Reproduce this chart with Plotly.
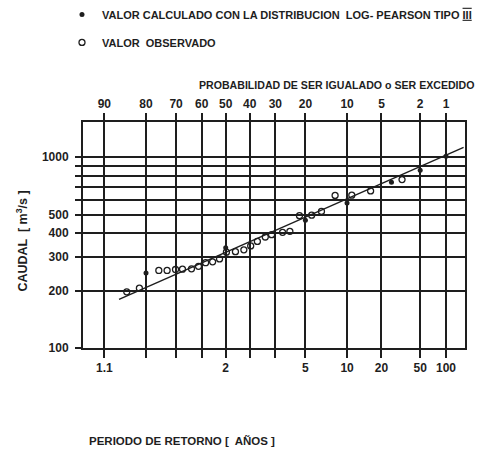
from statistics import NormalDist
import plotly.graph_objects as go

# ---------------- data ----------------
# exceedance probability (%) and discharge (m3/s) of observed values
obs_prob = [85.2, 81.9, 76.0, 73.2, 70.2, 67.6, 64.1, 61.3, 58.4, 55.5, 52.6,
            49.7, 45.9, 42.4, 39.6, 36.9, 33.8, 31.4, 27.4, 24.9, 21.8, 18.2,
            15.6, 12.4, 9.15, 6.3, 3.13]
obs_q = [197, 206, 255, 255, 258, 259, 260, 268, 280, 283, 293,
         318, 320, 327, 343, 362, 382, 393, 404, 409, 494, 497,
         520, 631, 633, 666, 764]

# values calculated with the Log-Pearson type III distribution
calc_prob = [80, 50, 20, 10, 4, 2, 1]
calc_q = [247, 335, 468, 576, 740, 854, 1012]

# fitted Log-Pearson III line (end points)
line_prob = [87, 0.6]
line_q = [180, 1128]

# axis ticks
prob_ticks = [90, 80, 70, 60, 50, 40, 30, 20, 10, 5, 2, 1]
prob_labels = ["90", "80", "70", "60", "50", "40", "30", "20", "10", "5", "2", "1"]
period_labels = ["1.1", "", "", "", "2", "", "", "5", "10", "20", "50", "100"]
q_ticks = [100, 200, 300, 400, 500, 600, 700, 800, 900, 1000]
q_labels = ["100", "200", "300", "400", "500", "", "", "", "", "1000"]

# ---------------- normal probability scale ----------------
nd = NormalDist()


def z(p):
    return nd.inv_cdf(1 - p / 100.0)


INK = "#1e1e1e"
FONT = "Liberation Sans"

fig = go.Figure()

# fitted line drawn on the top (probability) axis, which shares the range
fig.add_trace(go.Scatter(
    x=[z(p) for p in line_prob], y=line_q, mode="lines", xaxis="x2",
    line=dict(color=INK, width=1.4), showlegend=False, hoverinfo="skip"))

fig.add_trace(go.Scatter(
    x=[z(p) for p in obs_prob], y=obs_q, mode="markers",
    name="VALOR  OBSERVADO", legendgroup="b", legendrank=2,
    marker=dict(symbol="circle-open", size=6, color=INK, line=dict(width=1.3))))

fig.add_trace(go.Scatter(
    x=[z(p) for p in calc_prob], y=calc_q, mode="markers",
    name="VALOR CALCULADO CON LA DISTRIBUCION  LOG- PEARSON TIPO "
         "<span style=\"text-decoration:underline overline\">III</span>",
    legendgroup="a", legendrank=1,
    marker=dict(symbol="circle", size=5, color=INK)))

xr = [-1.507, 2.527]
fig.update_layout(
    width=477, height=451,
    margin=dict(l=83, r=12, t=122, b=103, autoexpand=False),
    paper_bgcolor="white", plot_bgcolor="white",
    font=dict(family=FONT, size=12, color=INK),
    xaxis=dict(
        range=xr, tickvals=[z(p) for p in prob_ticks], ticktext=period_labels,
        showgrid=True, gridcolor=INK, gridwidth=1.6,
        ticks="outside", ticklen=8, tickwidth=1.6, tickcolor=INK,
        showline=True, linecolor=INK, linewidth=2, mirror=True,
        zeroline=False,
        tickfont=dict(size=12, family=FONT, weight="bold")),
    xaxis2=dict(
        range=xr, overlaying="x", side="top", anchor="y",
        tickvals=[z(p) for p in prob_ticks], ticktext=prob_labels,
        showgrid=False, zeroline=False, showline=False,
        ticks="outside", ticklen=8, tickwidth=1.6, tickcolor=INK,
        tickfont=dict(size=12, family=FONT, weight="bold")),
    yaxis=dict(
        type="log", range=[2, 3.185], tickvals=q_ticks, ticktext=q_labels,
        showgrid=True, gridcolor=INK, gridwidth=1.6,
        ticks="outside", ticklen=6, tickwidth=1.6, tickcolor=INK,
        showline=True, linecolor=INK, linewidth=2, mirror=True,
        zeroline=False, ticklabelstandoff=4,
        tickfont=dict(size=12, family=FONT, weight="bold")),
    legend=dict(
        x=-0.055, y=1.54, xanchor="left", yanchor="top",
        traceorder="grouped", tracegroupgap=9, bgcolor="rgba(0,0,0,0)",
        font=dict(size=11, family=FONT, weight="bold"),
        itemclick=False),
    annotations=[
        dict(text="PROBABILIDAD DE SER IGUALADO o SER EXCEDIDO",
             xref="paper", yref="paper", x=1.03, y=1.165,
             xanchor="right", yanchor="middle", showarrow=False,
             font=dict(size=10.6, family=FONT, weight="bold")),
        dict(text="CAUDAL  [ m<sup>3</sup>/s ]",
             xref="paper", yref="paper", x=-0.16, y=0.475, textangle=-90,
             xanchor="center", yanchor="middle", showarrow=False,
             font=dict(size=12.5, family=FONT, weight="bold")),
        dict(text="PERIODO DE RETORNO [  AÑOS ]",
             xref="paper", yref="paper", x=0.01, y=-0.411,
             xanchor="left", yanchor="middle", showarrow=False,
             font=dict(size=11.5, family=FONT, weight="bold")),
    ],
)

fig.write_html("out.html", config={"displayModeBar": False},
               post_script="document.body.style.margin='0';")
